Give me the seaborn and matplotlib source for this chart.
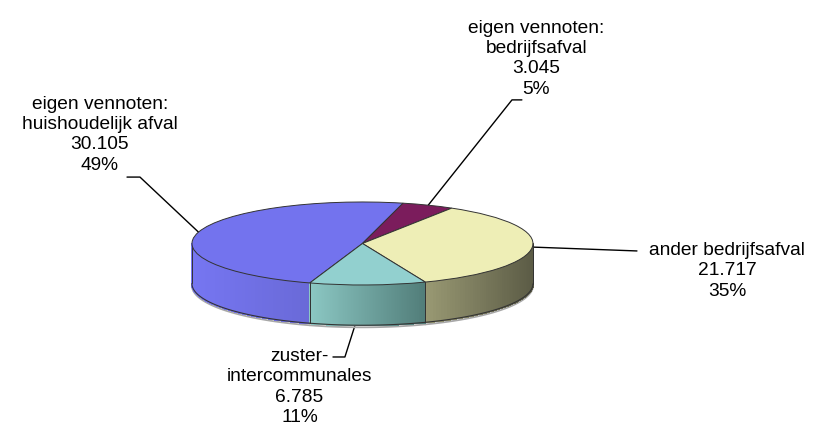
import numpy as np
import matplotlib
matplotlib.use("Agg")
import matplotlib.pyplot as plt
import seaborn as sns
from matplotlib.patches import Polygon
from matplotlib.colors import to_rgb

# Data: tonnages per herkomst
categories = [
    "eigen vennoten:\nhuishoudelijk afval",
    "eigen vennoten:\nbedrijfsafval",
    "ander bedrijfsafval",
    "zuster-\nintercommunales",
]
values = [30105, 3045, 21717, 6785]

# Colours (top face + light/dark ends of the side gradient)
top_colors = ["#7373ee", "#7b1c5c", "#eeeeb6", "#92d0cf"]
side_light = ["#7676f2", "#8a2a6a", "#999973", "#8cc8c4"]
side_dark = ["#6a6ad8", "#5e1046", "#5c5c46", "#527e7a"]

# Layout of labels and leader lines (data coords, pie radius = 1)
label_pos = [(-1.54, 2.62), (1.02, 4.45), (2.14, -0.66), (-0.37, -3.46)]
elbow_pos = [(-1.305, 1.60), (0.877, 3.46), (1.61, -0.18), (-0.103, -2.735)]
end_pos = [(-1.381, 1.60), (0.935, 3.46), (1.61, -0.18), (-0.173, -2.735)]

START_ANGLE = -108
DEPTH = 0.97
EDGE = "#333333"


def fmt_thousands(v):
    return f"{v:,}".replace(",", ".")


def draw_sides(ax, wedges):
    # front rim of the 3D pie, drawn as thin shaded strips per slice
    for wedge, c1, c2 in zip(wedges, side_light, side_dark):
        angles = np.linspace(wedge.theta1, wedge.theta2, 120)
        mids = (angles[:-1] + angles[1:]) / 2
        front = np.sin(np.radians(mids)) < 0
        if not front.any():
            continue
        seg = [(a, b) for a, b, f in zip(angles[:-1], angles[1:], front) if f]
        keys = [np.cos(np.radians((a + b) / 2)) for a, b in seg]
        kmin, kmax = min(keys), max(keys)
        c1, c2 = np.array(to_rgb(c1)), np.array(to_rgb(c2))
        for (a, b), k in zip(seg, keys):
            f = 0 if kmax == kmin else (k - kmin) / (kmax - kmin)
            col = c1 + (c2 - c1) * f
            ra, rb = np.radians(a), np.radians(b)
            pts = [
                (np.cos(ra), np.sin(ra)),
                (np.cos(rb), np.sin(rb)),
                (np.cos(rb), np.sin(rb) - DEPTH),
                (np.cos(ra), np.sin(ra) - DEPTH),
            ]
            ax.add_patch(Polygon(pts, closed=True, facecolor=col,
                                 edgecolor=col, linewidth=1.0,
                                 antialiased=False, zorder=0.8))
        # outline: bottom arc + seams
        arc = np.radians(np.concatenate([[s[0] for s in seg], [seg[-1][1]]]))
        ax.plot(np.cos(arc), np.sin(arc) - DEPTH, color=EDGE, lw=0.8, zorder=0.9)
        ax.plot(np.cos(arc), np.sin(arc) - DEPTH - 0.05, color="#a8a8a8",
                lw=1.3, zorder=0.7)
        for r in (arc[0], arc[-1]):
            ax.plot([np.cos(r)] * 2, [np.sin(r), np.sin(r) - DEPTH],
                    color=EDGE, lw=0.7, zorder=0.9)


def draw_chart():
    sns.set_theme(style="white")
    plt.rcParams["font.family"] = ["Liberation Sans", "DejaVu Sans"]

    fig = plt.figure(figsize=(8.17, 4.36), dpi=100)
    ax = fig.add_axes([0, 0, 1, 1])

    wedges, _ = ax.pie(
        values,
        colors=top_colors,
        startangle=START_ANGLE,
        counterclock=False,
        radius=1,
        frame=True,
        wedgeprops=dict(edgecolor=EDGE, linewidth=0.7, zorder=2),
    )
    draw_sides(ax, wedges)

    total = sum(values)
    for wedge, name, v, lp, ep, en in zip(wedges, categories, values,
                                          label_pos, elbow_pos, end_pos):
        mid = np.radians((wedge.theta1 + wedge.theta2) / 2)
        start = (np.cos(mid), np.sin(mid))
        ax.plot([start[0], ep[0], en[0]], [start[1], ep[1], en[1]],
                color="black", lw=1.0, zorder=0.5)
        label = f"{name}\n{fmt_thousands(v)}\n{round(v / total * 100)}%"
        ax.text(lp[0], lp[1], label, ha="center", va="center",
                fontsize=13.8, linespacing=1.25, color="black")

    ax.set_aspect("auto")
    ax.set_xlim(-2.126, 2.666)
    ax.set_ylim(-4.639, 5.867)
    ax.axis("off")
    fig.savefig("out.png", dpi=100, facecolor="white")


if __name__ == "__main__":
    draw_chart()
